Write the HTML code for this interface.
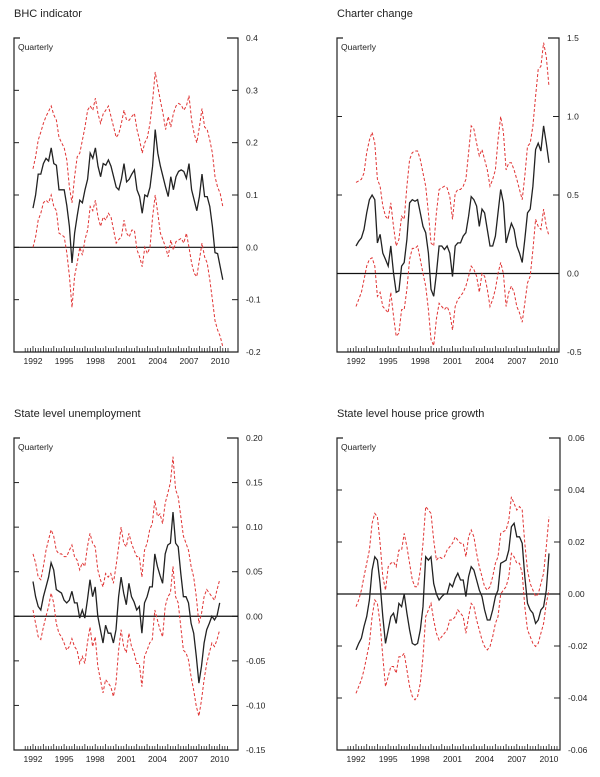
<!DOCTYPE html>
<html><head><meta charset="utf-8"><style>
html,body{margin:0;padding:0;background:#fff;}
svg{display:block;font-family:"Liberation Sans",Arial,sans-serif;}
</style></head><body>
<svg id="chart" width="600" height="777" viewBox="0 0 600 777" xmlns="http://www.w3.org/2000/svg"></svg>
<script>
// ---- Data (quarterly from 1992Q1) ----
const bhcMid=[.075,.1,.14,.14,.16,.17,.165,.19,.16,.157,.11,.11,.11,.08,.04,-.03,.027,.06,.09,.085,.11,.13,.18,.17,.19,.155,.135,.16,.157,.167,.155,.135,.115,.11,.13,.16,.125,.13,.14,.148,.11,.097,.065,.1,.097,.115,.155,.225,.18,.155,.135,.115,.097,.135,.11,.135,.145,.148,.145,.132,.16,.11,.09,.07,.097,.14,.097,.097,.078,.04,-.01,-.012,-.037,-.062];
const bhcUp=[.15,.173,.205,.22,.237,.25,.26,.27,.253,.243,.21,.2,.19,.167,.115,.085,.135,.173,.18,.205,.23,.262,.27,.262,.285,.255,.237,.255,.262,.27,.25,.23,.21,.217,.237,.262,.243,.243,.25,.256,.225,.205,.18,.2,.21,.237,.28,.335,.307,.28,.256,.225,.25,.23,.256,.27,.275,.272,.262,.27,.29,.243,.217,.2,.23,.265,.23,.225,.205,.18,.135,.115,.103,.078];
const bhcLo=[0,.02,.052,.065,.085,.09,.085,.1,.078,.07,.027,.024,.02,-.01,-.055,-.115,-.055,-.03,0,-.015,.015,.033,.078,.07,.09,.058,.04,.058,.052,.065,.058,.033,.008,.015,.02,.052,.027,.02,.033,.033,-.005,-.018,-.037,0,-.012,0,.058,.1,.065,.027,.014,0,-.018,.014,-.005,.011,.014,.017,.008,.027,0,-.03,-.05,-.056,-.024,.008,-.018,-.03,-.062,-.1,-.14,-.158,-.17,-.19];

const chMid=[.175,.205,.227,.28,.386,.47,.5,.47,.195,.25,.13,.09,.047,.175,.004,-.12,-.11,.047,.07,.217,.45,.47,.46,.47,.386,.3,.26,.13,-.1,-.145,0,.175,.175,.153,.175,.13,-.02,.175,.195,.195,.238,.26,.365,.49,.47,.43,.3,.41,.386,.28,.175,.175,.238,.386,.535,.45,.195,.26,.32,.28,.175,.13,.07,.217,.386,.41,.556,.79,.83,.78,.94,.83,.705];
const chUp=[.58,.59,.6,.64,.77,.85,.9,.83,.6,.556,.43,.365,.345,.45,.3,.175,.217,.365,.345,.556,.726,.77,.78,.78,.726,.64,.556,.386,.195,.175,.386,.535,.546,.556,.546,.49,.345,.51,.535,.535,.556,.6,.77,.94,.92,.83,.75,.79,.726,.66,.556,.6,.66,.85,1.0,.9,.66,.705,.705,.66,.6,.535,.47,.62,.81,.83,.94,1.13,1.3,1.32,1.47,1.38,1.19];
const chLo=[-.21,-.165,-.12,-.04,.047,.09,.1,.047,-.145,-.12,-.21,-.23,-.25,-.12,-.27,-.4,-.38,-.23,-.23,-.1,.09,.16,.16,.175,.09,0,-.08,-.23,-.42,-.46,-.29,-.19,-.21,-.23,-.21,-.25,-.36,-.21,-.165,-.145,-.12,-.08,-.017,.047,.025,-.017,-.12,0,-.017,-.1,-.21,-.165,-.1,0,.07,0,-.21,-.12,-.08,-.12,-.21,-.25,-.31,-.19,-.06,-.017,.15,.345,.3,.28,.41,.3,.238];

const unMid=[.039,.022,.011,.007,.022,.033,.044,.06,.052,.03,.028,.026,.018,.015,.018,.028,.015,.015,-.002,.007,-.002,.018,.041,.022,.033,0,-.015,-.03,-.01,-.019,-.019,-.03,-.015,.022,.044,.026,.013,.037,.022,.016,.007,.011,-.019,.015,.022,.033,.033,.07,.056,.046,.037,.07,.08,.082,.117,.082,.078,.048,.022,.022,.015,-.008,-.019,-.045,-.075,-.056,-.03,-.015,-.008,0,-.004,.001,.015];
const unUp=[.07,.06,.044,.041,.056,.074,.086,.097,.09,.074,.07,.07,.067,.067,.074,.08,.067,.063,.052,.06,.056,.078,.093,.082,.078,.052,.041,.033,.048,.044,.048,.037,.056,.078,.1,.082,.078,.093,.082,.074,.067,.067,.044,.074,.082,.097,.104,.13,.112,.115,.104,.127,.138,.15,.179,.142,.134,.112,.09,.082,.074,.056,.044,.022,-.008,.003,.022,.03,.026,.022,.018,.03,.041];
const unLo=[.007,-.008,-.023,-.026,-.012,0,.011,.026,.015,-.008,-.019,-.023,-.03,-.038,-.034,-.025,-.034,-.038,-.053,-.045,-.053,-.03,-.012,-.034,-.023,-.056,-.071,-.086,-.071,-.075,-.079,-.09,-.075,-.038,-.015,-.034,-.041,-.019,-.034,-.041,-.053,-.053,-.079,-.045,-.038,-.03,-.026,.007,-.004,-.015,-.023,.011,.022,.026,.056,.022,.015,-.012,-.038,-.041,-.049,-.068,-.083,-.101,-.112,-.094,-.071,-.053,-.041,-.03,-.034,-.026,-.015];

const hpMid=[-.0215,-.019,-.017,-.0125,-.0087,-.0023,.0092,.0143,.013,.004,-.0087,-.019,-.0138,-.0087,-.0074,-.0113,-.0036,-.0049,0,-.0074,-.0138,-.019,-.0196,-.019,-.0138,-.0049,.0143,.013,.0143,.004,0,-.0023,-.001,0,0,.004,.0028,.006,.008,.0054,.0054,-.001,.0067,.0105,.0092,.0054,.0015,-.001,-.0061,-.01,-.01,-.0061,-.001,.0015,.0118,.0124,.013,.0169,.0259,.0272,.022,.022,.0195,.0067,-.0036,-.0061,-.0074,-.0113,-.01,-.0061,-.0049,.0015,.0156];
const hpUp=[-.0049,-.0023,.0015,.0067,.0118,.0169,.0272,.031,.0297,.0195,.0067,.0015,.0105,.0118,.0124,.0105,.0169,.0169,.0233,.0182,.0118,.0054,.0028,.0028,.0092,.0195,.0336,.0323,.031,.0207,.013,.0143,.0137,.0143,.0169,.0182,.0195,.022,.0207,.0195,.0195,.0143,.022,.0246,.022,.0156,.0105,.0067,.0028,.0015,.0028,.0067,.0118,.0143,.0233,.024,.0246,.0284,.0374,.0348,.0323,.0336,.0323,.0195,.0092,.004,.0015,-.001,0,.004,.008,.0182,.0297];
const hpLo=[-.0382,-.0356,-.033,-.0292,-.0241,-.019,-.0087,-.0023,-.0036,-.0113,-.0241,-.0356,-.0318,-.0279,-.0279,-.0305,-.0241,-.0241,-.0228,-.0292,-.0356,-.0394,-.0407,-.0394,-.0343,-.0241,-.0087,-.0061,-.0036,-.01,-.0151,-.0177,-.0164,-.0151,-.0138,-.01,-.01,-.0087,-.0061,-.0074,-.0087,-.0151,-.0087,-.0036,-.0049,-.01,-.0138,-.0177,-.0202,-.0215,-.0202,-.0164,-.0113,-.0087,0,.0015,.0028,.0067,.0156,.0143,.0118,.0118,.008,-.0049,-.0138,-.0164,-.019,-.0202,-.019,-.0151,-.0113,-.0036,.0015];

const yearLabels=[1992,1995,1998,2001,2004,2007,2010];
const ticks1=[0.4,0.3,0.2,0.1,0.0,-0.1,-0.2];
const ticks2=[1.5,1.0,0.5,0.0,-0.5];
const ticks3=[0.20,0.15,0.10,0.05,0.00,-0.05,-0.10,-0.15];
const ticks4=[0.06,0.04,0.02,0.00,-0.02,-0.04,-0.06];

const NS="http://www.w3.org/2000/svg";
const svg=document.getElementById('chart');
function mk(tag,attrs,parent){const e=document.createElementNS(NS,tag);for(const k in attrs)e.setAttribute(k,attrs[k]);(parent||svg).appendChild(e);return e;}

function panel(cfg){
  const g=mk('g',{});
  
  
  const {L,R,T,B,ymax,ymin,x0,py,dec}=cfg;
  const ys=v=>T+(ymax-v)/(ymax-ymin)*(B-T);
  const xs=t=>x0+(t-1992)*py;
  const title=mk('text',{x:L,y:T-21,'font-size':11,fill:'#222'},g);
  title.textContent=cfg.title;
  
  
  const q=mk('text',{x:L+4,y:T+12,'font-size':8.5,fill:'#222'},g);
  q.textContent='Quarterly';
  
  
  // frame
  mk('path',{d:`M${L+6},${T}H${L}V${B}H${R}V${T}H${R-11}`,fill:'none',stroke:'#222','stroke-width':1.2},g);
  // y ticks
  cfg.ticks.forEach(v=>{
    const y=ys(v);
    mk('line',{x1:R,x2:R-6,y1:y,y2:y,stroke:'#222','stroke-width':1},g);
    mk('line',{x1:L,x2:L+5,y1:y,y2:y,stroke:'#222','stroke-width':1},g);
    const t=mk('text',{x:R+8,y:y+3,'font-size':8.5,fill:'#222'},g);
    t.textContent=v.toFixed(dec);
    
    
  });
  // x minor ticks
  for(let t=1991.25;t<=2010.76;t+=0.25){
    const x=xs(t);const major=Math.abs(t-Math.round(t))<0.01;
    mk('line',{x1:x,x2:x,y1:B,y2:B-(major?6:4),stroke:'#222','stroke-width':0.8},g);
  }
  yearLabels.forEach(yr=>{
    const t=mk('text',{x:xs(yr),y:B+12,'font-size':8.5,'text-anchor':'middle',fill:'#222'},g);
    t.textContent=yr;
    
    
  });
  // zero line
  const zl=mk('line',{x1:L,x2:R,y1:ys(0),y2:ys(0),stroke:'#111','stroke-width':1.2},g);
  
  
  function line(arr,style,name){
    const d=arr.map((v,i)=>(i?'L':'M')+xs(1992+i/4).toFixed(1)+','+ys(v).toFixed(1)).join('');
    const p=mk('path',Object.assign({d:d,fill:'none'},style),g);
    
    
  }
  line(cfg.up,{stroke:'#e03535','stroke-width':1,'stroke-dasharray':'3,2'},'upper-band');
  line(cfg.lo,{stroke:'#e03535','stroke-width':1,'stroke-dasharray':'3,2'},'lower-band');
  line(cfg.mid,{stroke:'#222','stroke-width':1.3},'estimate-line');
}

panel({name:'bhc-indicator-panel',title:'BHC indicator',L:14,R:238,T:38,B:352,ymax:0.4,ymin:-0.2,x0:33,py:10.4,dec:1,ticks:ticks1,mid:bhcMid,up:bhcUp,lo:bhcLo});
panel({name:'charter-change-panel',title:'Charter change',L:337,R:559,T:38,B:352,ymax:1.5,ymin:-0.5,x0:356,py:10.72,dec:1,ticks:ticks2,mid:chMid,up:chUp,lo:chLo});
panel({name:'unemployment-panel',title:'State level unemployment',L:14,R:238,T:438,B:750,ymax:0.2,ymin:-0.15,x0:33,py:10.37,dec:2,ticks:ticks3,mid:unMid,up:unUp,lo:unLo});
panel({name:'house-price-panel',title:'State level house price growth',L:337,R:560,T:438,B:750,ymax:0.06,ymin:-0.06,x0:356,py:10.72,dec:2,ticks:ticks4,mid:hpMid,up:hpUp,lo:hpLo});
</script>
</body></html>
